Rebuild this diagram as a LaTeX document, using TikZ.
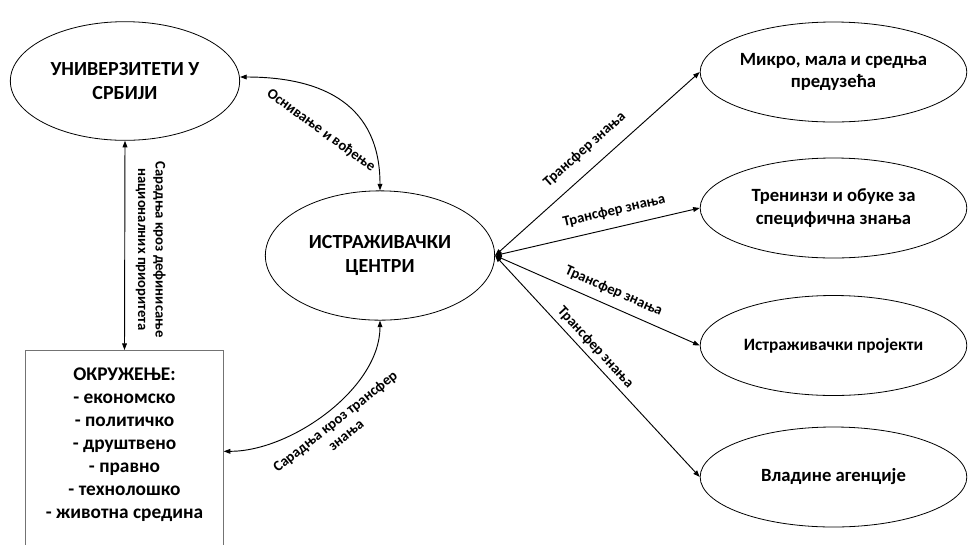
\documentclass[tikz,border=0pt]{standalone}
\usepackage{fontspec}
\setmainfont{Carlito}
\usetikzlibrary{shapes.geometric,arrows.meta,positioning}

\begin{document}
\begin{tikzpicture}[x=0.75pt, y=-0.75pt,
    oval/.style={ellipse, draw, line width=0.6pt, inner sep=0pt, align=center, font=\bfseries\fontsize{14}{17}\selectfont},
    bigoval/.style={oval, minimum width=172pt, minimum height=93pt, font=\bfseries\fontsize{15}{17.5}\selectfont},
    sideoval/.style={oval, minimum width=200pt, minimum height=75pt},
    envbox/.style={rectangle, draw=black!55, line width=0.8pt, align=center, minimum width=148pt, inner ysep=13pt, text depth=150pt, font=\bfseries\fontsize{14.5}{17.2}\selectfont},
    link/.style={<->, >={Triangle[length=5pt,width=3.6pt]}, line width=0.7pt},
    tag/.style={align=center, font=\bfseries\fontsize{11}{13}\selectfont}]
  \clip (0,0) rectangle (968,544);

  \node[bigoval, minimum height=89pt] (uni) at (125,81) {УНИВЕРЗИТЕТИ У\\СРБИЈИ};
  \node[bigoval, minimum height=97pt] (centri) at (380,255.5) {ИСТРАЖИВАЧКИ\\ЦЕНТРИ};
  \node[envbox, anchor=north] (okr) at (124.5,350) {ОКРУЖЕЊЕ:\\- економско\\- политичко\\- друштвено\\- правно\\- технолошко\\- животна средина};

  \node[sideoval] (msp) at (833.5,72) {Микро, мала и средња\\предузећа};
  \node[sideoval] (obuke) at (833.5,208) {Тренинзи и обуке за\\специфична знања};
  \node[sideoval, font=\bfseries\fontsize{13}{16}\selectfont] (projekti) at (833.5,345.5) {Истраживачки пројекти};
  \node[sideoval] (agencije) at (833.5,477) {Владине агенције};

  \draw[link] (uni.south) -- node[tag, pos=.52, rotate=-90, anchor=south, inner sep=8pt] (prioriteti) {Сарадња кроз дефинисање\\националних приоритета} (okr.north);
  \draw[link] ([yshift=3pt]uni.east) to[out=0, in=90, looseness=1.2] node[tag, sloped, below=18pt, pos=.5] (osnivanje) {Оснивање и вођење} (centri.north);
  \draw[link] ([yshift=-76pt]okr.north east) to[out=0, in=-90, looseness=.85] node[tag, sloped, below=2pt, pos=.5] (saradnja) {Сарадња кроз трансфер\\знања} (centri.south);

  \foreach \dst/\p/\d in {msp/.5/6pt, obuke/.6/4pt, projekti/.55/3pt, agencije/.45/0pt}
    \draw[link] (centri.east) -- node[tag, sloped, above=\d, pos=\p] {Трансфер знања} (\dst.west);
\end{tikzpicture}
\end{document}
